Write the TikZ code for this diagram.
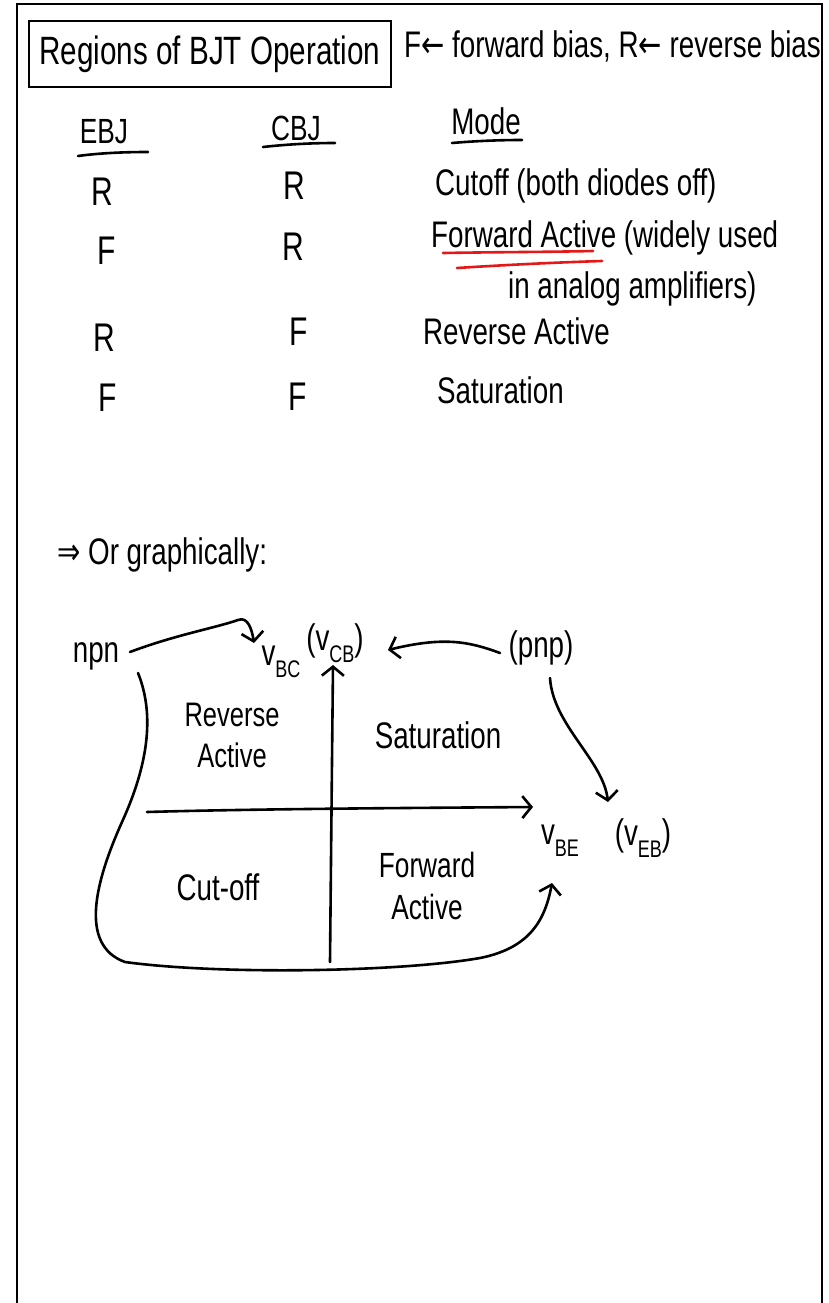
\documentclass[tikz,border=0pt]{standalone}
\usepackage{fontspec}
\setmainfont{Liberation Sans}
\newfontfamily\hand[FakeStretch=0.75]{Liberation Sans}
\newfontfamily\symf[FakeStretch=0.75]{DejaVu Sans}
\usetikzlibrary{arrows.meta}
\definecolor{penred}{RGB}{228,24,24}
\newcommand{\sbs}[1]{\raisebox{-0.32em}{\fontsize{24}{24}\selectfont #1}}
\begin{document}
\begin{tikzpicture}[x=1pt,y=1pt,
  hw/.style={font=\hand\fontsize{37}{41}\selectfont, inner sep=0pt},
  hwl/.style={hw, anchor=west},
  letter/.style={font=\hand\fontsize{40}{44}\selectfont, inner sep=0pt},
  head/.style={font=\hand\fontsize{35}{39}\selectfont, inner sep=0pt},
  pen/.style={line width=2.6pt, line cap=round, line join=round},
  arr/.style={pen, -{Straight Barb[length=9pt,width=22pt,line width=2.6pt]}},
]
\useasboundingbox (0,0) rectangle (829,-1303);
% page border (open at the bottom)
\draw[line width=2pt] (17,-1303) -- (17,-4) -- (822,-4) -- (822,-1303);

% title and legend
\node[draw, line width=2.4pt, minimum width=362pt, minimum height=66pt,
      font=\hand\fontsize{39.5}{44}\selectfont, inner sep=0pt] (title) at (210,-54) {Regions of BJT Operation};
\node[hwl] (legend) at (404,-46) {F{\symf ←} forward bias, R{\symf ←} reverse bias};

% table headers
\node[head] (ebj) at (104,-132) {EBJ};
\node[head] (cbj) at (296,-128) {CBJ};
\node[hw] (mode) at (486,-121) {Mode};
\draw[pen] (78,-156) .. controls (100,-153) and (125,-152) .. (148,-152);
\draw[pen] (263,-147) .. controls (290,-144) and (315,-143) .. (335,-143);
\draw[pen] (452,-143) .. controls (475,-141) and (500,-140) .. (522,-140);

% rows
\node[letter] (e1) at (102,-192) {R};
\node[letter] (c1) at (294,-186) {R};
\node[hwl] (m1) at (435,-186) {Cutoff (both diodes off)};

\node[letter] (e2) at (107,-251) {F};
\node[letter] (c2) at (293,-247) {R};
\node[hwl] (m2) at (431,-238) {Forward Active (widely used};
\node[hwl] (m2b) at (508,-289) {in analog amplifiers)};
\draw[pen, penred] (443,-253) .. controls (500,-252) and (550,-252) .. (593,-251);
\draw[pen, penred] (457,-268) .. controls (520,-264) and (570,-262) .. (602,-261);

\node[letter] (e3) at (104,-338) {R};
\node[letter] (c3) at (299,-332) {F};
\node[hwl] (m3) at (423,-331) {Reverse Active};

\node[letter] (e4) at (108,-398) {F};
\node[letter] (c4) at (298,-397) {F};
\node[hwl] (m4) at (437,-390) {Saturation};

% graphically
\node[hwl] (orgraph) at (57,-555) {{\symf ⇒} Or graphically:};

\node[hw] (npn) at (96,-656) {npn};
\node[hw] (vbc) at (281,-662) {v\sbs{BC}};
\node[hw] (vcb) at (335,-643) {(v\sbs{CB})};
\node[hw] (pnp) at (541,-648) {(pnp)};
\node[hw] (vbe) at (560,-841) {v\sbs{BE}};
\node[hw] (veb) at (643,-838) {(v\sbs{EB})};

\node[hw, font=\hand\fontsize{34}{41}\selectfont, align=center] (revact) at (232,-735) {Reverse\\Active};
\node[hw] (sat) at (438,-735) {Saturation};
\node[hw] (cutoff) at (218,-887) {Cut-off};
\node[hw, font=\hand\fontsize{35}{42}\selectfont, align=center] (fwdact) at (427,-886) {Forward\\Active};

% axes
\coordinate (vb) at (330,-962);
\coordinate (vt) at (333,-665);
\coordinate (hl) at (147,-812);
\coordinate (hr) at (533,-807);
\draw[arr] (vb) .. controls (331,-860) and (332,-760) .. (vt);
\draw[arr] (hl) .. controls (250,-809) and (400,-808) .. (hr);

% connectors
\draw[arr] ([shift={(34,4)}]npn.center) .. controls (175,-635) and (215,-628) .. (238,-620)
  .. controls (248,-616) and (252,-630) .. ([shift={(-27,19)}]vbc.center);
\draw[arr] ([shift={(-41,-5)}]pnp.center) .. controls (470,-642) and (445,-636) .. ([shift={(53,-7)}]vcb.center);
\draw[arr] ([shift={(9,-30)}]pnp.center) .. controls (553,-725) and (603,-760) .. ([shift={(-35,36)}]veb.center);
\draw[arr] ([shift={(42,-17)}]npn.center) .. controls (155,-715) and (148,-765) .. (122,-822)
  .. controls (96,-880) and (78,-945) .. (125,-962)
  .. controls (220,-975) and (400,-972) .. (480,-958)
  .. controls (530,-948) and (545,-920) .. ([shift={(-8,-42)}]vbe.center);
\end{tikzpicture}
\end{document}
